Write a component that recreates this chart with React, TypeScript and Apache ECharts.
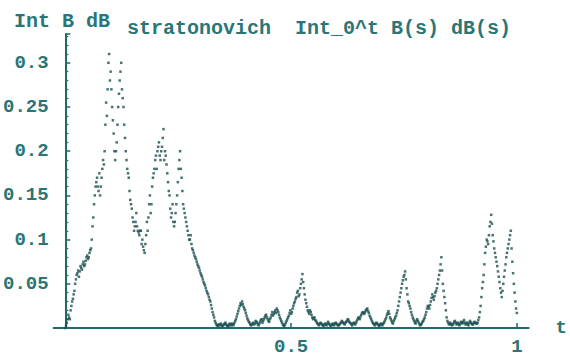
import React, { useEffect, useRef } from "react";
import * as echarts from "echarts";

// Stratonovich integral path values (uniform time grid on [0,1])
const risePhase = [
  0.0, 0.006, 0.015, 0.01, 0.025, 0.033, 0.042, 0.055, 0.062, 0.058,
  0.07, 0.066, 0.075, 0.072, 0.08, 0.078, 0.085, 0.09, 0.115, 0.14,
  0.16, 0.17, 0.155, 0.15, 0.17, 0.19, 0.2, 0.255, 0.27, 0.31,
  0.29, 0.25, 0.22, 0.19, 0.21, 0.25, 0.28, 0.3, 0.26, 0.23,
  0.2, 0.18, 0.17, 0.145, 0.135, 0.12, 0.115, 0.13, 0.11, 0.105,
];
const secondHump = [
  0.11, 0.1, 0.088, 0.095, 0.12, 0.125, 0.15, 0.14, 0.17, 0.18,
  0.195, 0.2, 0.21, 0.19, 0.205, 0.225, 0.2, 0.185, 0.165, 0.15,
  0.125, 0.14, 0.115, 0.13, 0.15, 0.18, 0.2, 0.17, 0.14, 0.13,
  0.12, 0.11, 0.1, 0.105, 0.09, 0.085, 0.08, 0.075, 0.07, 0.065,
  0.06, 0.055, 0.05, 0.045, 0.04, 0.035, 0.03, 0.022, 0.015, 0.008,
  0.004, 0.002,
];
const quietPhase = [
  0.003, 0.005, 0.002, 0.004, 0.006, 0.003, 0.002, 0.005, 0.004, 0.003,
  0.006, 0.01, 0.016, 0.022, 0.028, 0.03, 0.024, 0.02, 0.014, 0.009,
  0.006, 0.003, 0.005, 0.004, 0.008, 0.006, 0.003, 0.007, 0.01, 0.008,
  0.012, 0.015, 0.01, 0.007, 0.012, 0.018, 0.016, 0.02, 0.022, 0.018,
  0.012, 0.008, 0.004, 0.002, 0.006, 0.01, 0.014, 0.02, 0.018, 0.025,
  0.03, 0.035, 0.042, 0.038, 0.05, 0.061, 0.045, 0.032, 0.024, 0.018,
  0.02, 0.015, 0.01, 0.012, 0.008, 0.005, 0.003, 0.006, 0.004, 0.002,
  0.005, 0.003, 0.007, 0.004, 0.002, 0.005, 0.003, 0.006, 0.004, 0.003,
  0.005, 0.008, 0.006, 0.004, 0.007, 0.01, 0.007, 0.005, 0.003, 0.006,
  0.004, 0.008, 0.012, 0.01, 0.015, 0.018, 0.016, 0.02, 0.022, 0.017,
  0.012, 0.008, 0.005, 0.003, 0.006, 0.004, 0.002, 0.005, 0.003, 0.006,
  0.01, 0.015, 0.019, 0.012, 0.008, 0.005, 0.01, 0.014, 0.02, 0.03,
  0.04, 0.05, 0.058, 0.064, 0.045, 0.03, 0.025, 0.018, 0.012, 0.008,
  0.005, 0.01, 0.006, 0.003, 0.005, 0.008, 0.012, 0.018, 0.025, 0.022,
  0.03, 0.038, 0.032, 0.04, 0.045, 0.055, 0.065, 0.08,
];
const latePeaks = [
  0.05, 0.035, 0.02, 0.008, 0.004, 0.006, 0.003, 0.005, 0.008, 0.004,
  0.006, 0.003, 0.007, 0.005, 0.009, 0.004, 0.006, 0.003, 0.008, 0.005,
  0.004, 0.007, 0.005, 0.006, 0.012,
  0.025, 0.045, 0.06, 0.085, 0.1, 0.095, 0.115, 0.128, 0.105, 0.09,
  0.08, 0.07, 0.058, 0.045, 0.035, 0.05, 0.065, 0.08, 0.09, 0.1,
  0.11, 0.075, 0.05, 0.03, 0.017,
];
// extra scattered samples between the grid points (half-step offsets)
const midRise = [
  0.003, 0.01, 0.012, 0.02, 0.03, 0.038, 0.05, 0.06, 0.065, 0.064,
  0.068, 0.072, 0.07, 0.076, 0.082, 0.08, 0.088, 0.1, 0.125, 0.15,
  0.165, 0.16, 0.175, 0.16, 0.18, 0.185, 0.23, 0.24, 0.3, 0.28,
  0.27, 0.235, 0.2, 0.2, 0.23, 0.265, 0.29, 0.27, 0.25, 0.215,
  0.19, 0.175, 0.155, 0.14, 0.125, 0.11, 0.12, 0.115, 0.108, 0.11,
];
const midHump = [
  0.095, 0.092, 0.085, 0.105, 0.11, 0.14, 0.13, 0.16, 0.175, 0.19,
  0.18, 0.205, 0.195, 0.2, 0.215, 0.19, 0.195, 0.175, 0.155, 0.135,
  0.13, 0.12, 0.12, 0.14, 0.165, 0.19, 0.18, 0.155, 0.135, 0.125,
  0.115, 0.105, 0.1, 0.095, 0.088, 0.082, 0.078, 0.072, 0.068, 0.062,
  0.058, 0.052, 0.048, 0.042, 0.038, 0.032, 0.026, 0.018, 0.012, 0.006,
  0.003, 0.004,
];
const midQuiet = [
  0.004, 0.003, 0.003, 0.005, 0.004, 0.002, 0.004, 0.003, 0.005, 0.004,
  0.008, 0.013, 0.019, 0.025, 0.026, 0.027, 0.022, 0.017, 0.011, 0.007,
  0.004, 0.004, 0.006, 0.005, 0.007, 0.004, 0.005, 0.009, 0.006, 0.01,
  0.014, 0.012, 0.008, 0.01, 0.015, 0.014, 0.018, 0.017, 0.02, 0.015,
  0.01, 0.006, 0.003, 0.004, 0.008, 0.012, 0.017, 0.016, 0.022, 0.028,
  0.033, 0.04, 0.036, 0.045, 0.055, 0.052, 0.038, 0.028, 0.02, 0.016,
  0.018, 0.012, 0.011, 0.009, 0.006, 0.004, 0.005, 0.005, 0.003, 0.004,
  0.004, 0.005, 0.005, 0.003, 0.004, 0.004, 0.005, 0.005, 0.003, 0.004,
  0.006, 0.007, 0.005, 0.006, 0.008, 0.009, 0.006, 0.004, 0.005, 0.005,
  0.006, 0.01, 0.011, 0.013, 0.017, 0.017, 0.018, 0.021, 0.019, 0.014,
  0.01, 0.006, 0.004, 0.005, 0.005, 0.003, 0.004, 0.004, 0.005, 0.008,
  0.012, 0.017, 0.016, 0.01, 0.006, 0.008, 0.012, 0.017, 0.025, 0.035,
  0.045, 0.054, 0.06, 0.055, 0.038, 0.028, 0.022, 0.015, 0.01, 0.006,
  0.008, 0.008, 0.004, 0.004, 0.007, 0.01, 0.015, 0.022, 0.024, 0.026,
  0.034, 0.035, 0.036, 0.042, 0.05, 0.06, 0.072, 0.065,
];
const midLate = [
  0.042, 0.028, 0.012, 0.006, 0.005, 0.004, 0.004, 0.007, 0.006, 0.005,
  0.004, 0.005, 0.006, 0.007, 0.006, 0.005, 0.004, 0.006, 0.006, 0.004,
  0.006, 0.006, 0.005, 0.009, 0.018,
  0.035, 0.052, 0.072, 0.092, 0.098, 0.105, 0.12, 0.118, 0.098, 0.085,
  0.075, 0.064, 0.052, 0.04, 0.042, 0.058, 0.072, 0.085, 0.095, 0.105,
  0.09, 0.062, 0.04, 0.022,
];
const yTickLabels = ["0.05", "0.1", "0.15", "0.2", "0.25", "0.3"];
const xTickLabels = ["0.5", "1"];
const yLabelText = "Int B dB";
const plotLabelText = "stratonovich  Int_0^t B(s) dB(s)";

const TEXT = "#2a7676";
const AXIS = "#1f6a6a";
const DOT = "#1c5050";
const FONT = "Liberation Mono";

export default function App() {
  const ref = useRef<HTMLDivElement>(null);
  useEffect(() => {
    if (!ref.current) return;
    const chart = echarts.init(ref.current, null, { renderer: "svg" });
    const values = [...risePhase, ...secondHump, ...quietPhase, ...latePeaks];
    const mids = [...midRise, ...midHump, ...midQuiet, ...midLate];
    const n = values.length;
    const data = values.map((v, i) => [i / (n - 1), v]);
    const midData = mids.map((v, i) => [(i + 0.5) / (n - 1), v]);
    const xVals = xTickLabels.map(Number);
    chart.setOption({
      animation: false,
      backgroundColor: "#ffffff",
      title: [
        {
          text: yLabelText,
          left: 14,
          top: 11,
          padding: 0,
          textStyle: { fontFamily: FONT, fontSize: 20, fontWeight: "bold", color: TEXT },
        },
        {
          text: plotLabelText,
          left: 127,
          top: 18,
          padding: 0,
          textStyle: { fontFamily: FONT, fontSize: 20, fontWeight: "bold", color: TEXT },
        },
      ],
      grid: { left: 51, right: 34, top: 34, bottom: 24, containLabel: false },
      xAxis: {
        type: "value",
        min: -0.026,
        max: 1.026,
        splitLine: { show: false },
        axisLine: { show: true, onZero: false, lineStyle: { color: AXIS, width: 2 } },
        axisTick: { show: true, inside: true, length: 5, customValues: xVals, lineStyle: { color: AXIS, width: 1.5 } },
        axisLabel: {
          customValues: xVals,
          margin: 9,
          fontFamily: FONT,
          fontSize: 19,
          fontWeight: "bold",
          color: TEXT,
          formatter: (v: number) => {
            const idx = xVals.findIndex((x) => Math.abs(x - v) < 1e-9);
            return idx >= 0 ? xTickLabels[idx] : "";
          },
        },
        name: "t",
        nameLocation: "end",
        nameGap: 27,
        nameTextStyle: { fontFamily: FONT, fontSize: 19, fontWeight: "bold", color: TEXT, padding: [0, 0, 6, 0] },
      },
      yAxis: {
        type: "value",
        min: 0,
        max: 0.3326,
        interval: 0.05,
        splitLine: { show: false },
        axisLine: { show: true, onZero: true, lineStyle: { color: AXIS, width: 2 } },
        axisTick: { show: true, inside: true, length: 5, lineStyle: { color: AXIS, width: 1.5 } },
        minorTick: { show: true, splitNumber: 5, length: 3, lineStyle: { color: AXIS, width: 1.2 } },
        axisLabel: {
          margin: 5,
          showMaxLabel: false,
          fontFamily: FONT,
          fontSize: 19,
          fontWeight: "bold",
          color: TEXT,
          formatter: (v: number) => {
            const k = Math.round(v / 0.05);
            if (Math.abs(v - k * 0.05) > 1e-6 || k < 1) return "";
            return yTickLabels[k - 1] ?? "";
          },
        },
      },
      series: [
        {
          type: "scatter",
          data,
          symbol: "rect",
          symbolSize: 2.5,
          itemStyle: { color: DOT },
          silent: true,
        },
        {
          type: "scatter",
          data: midData,
          symbol: "rect",
          symbolSize: 2.5,
          itemStyle: { color: DOT },
          silent: true,
        },
      ],
    });
    return () => chart.dispose();
  }, []);
  return (
    <div
      ref={ref}
      style={{ position: "fixed", left: 0, top: 0, width: 570, height: 356, background: "#fff" }}
    />
  );
}
